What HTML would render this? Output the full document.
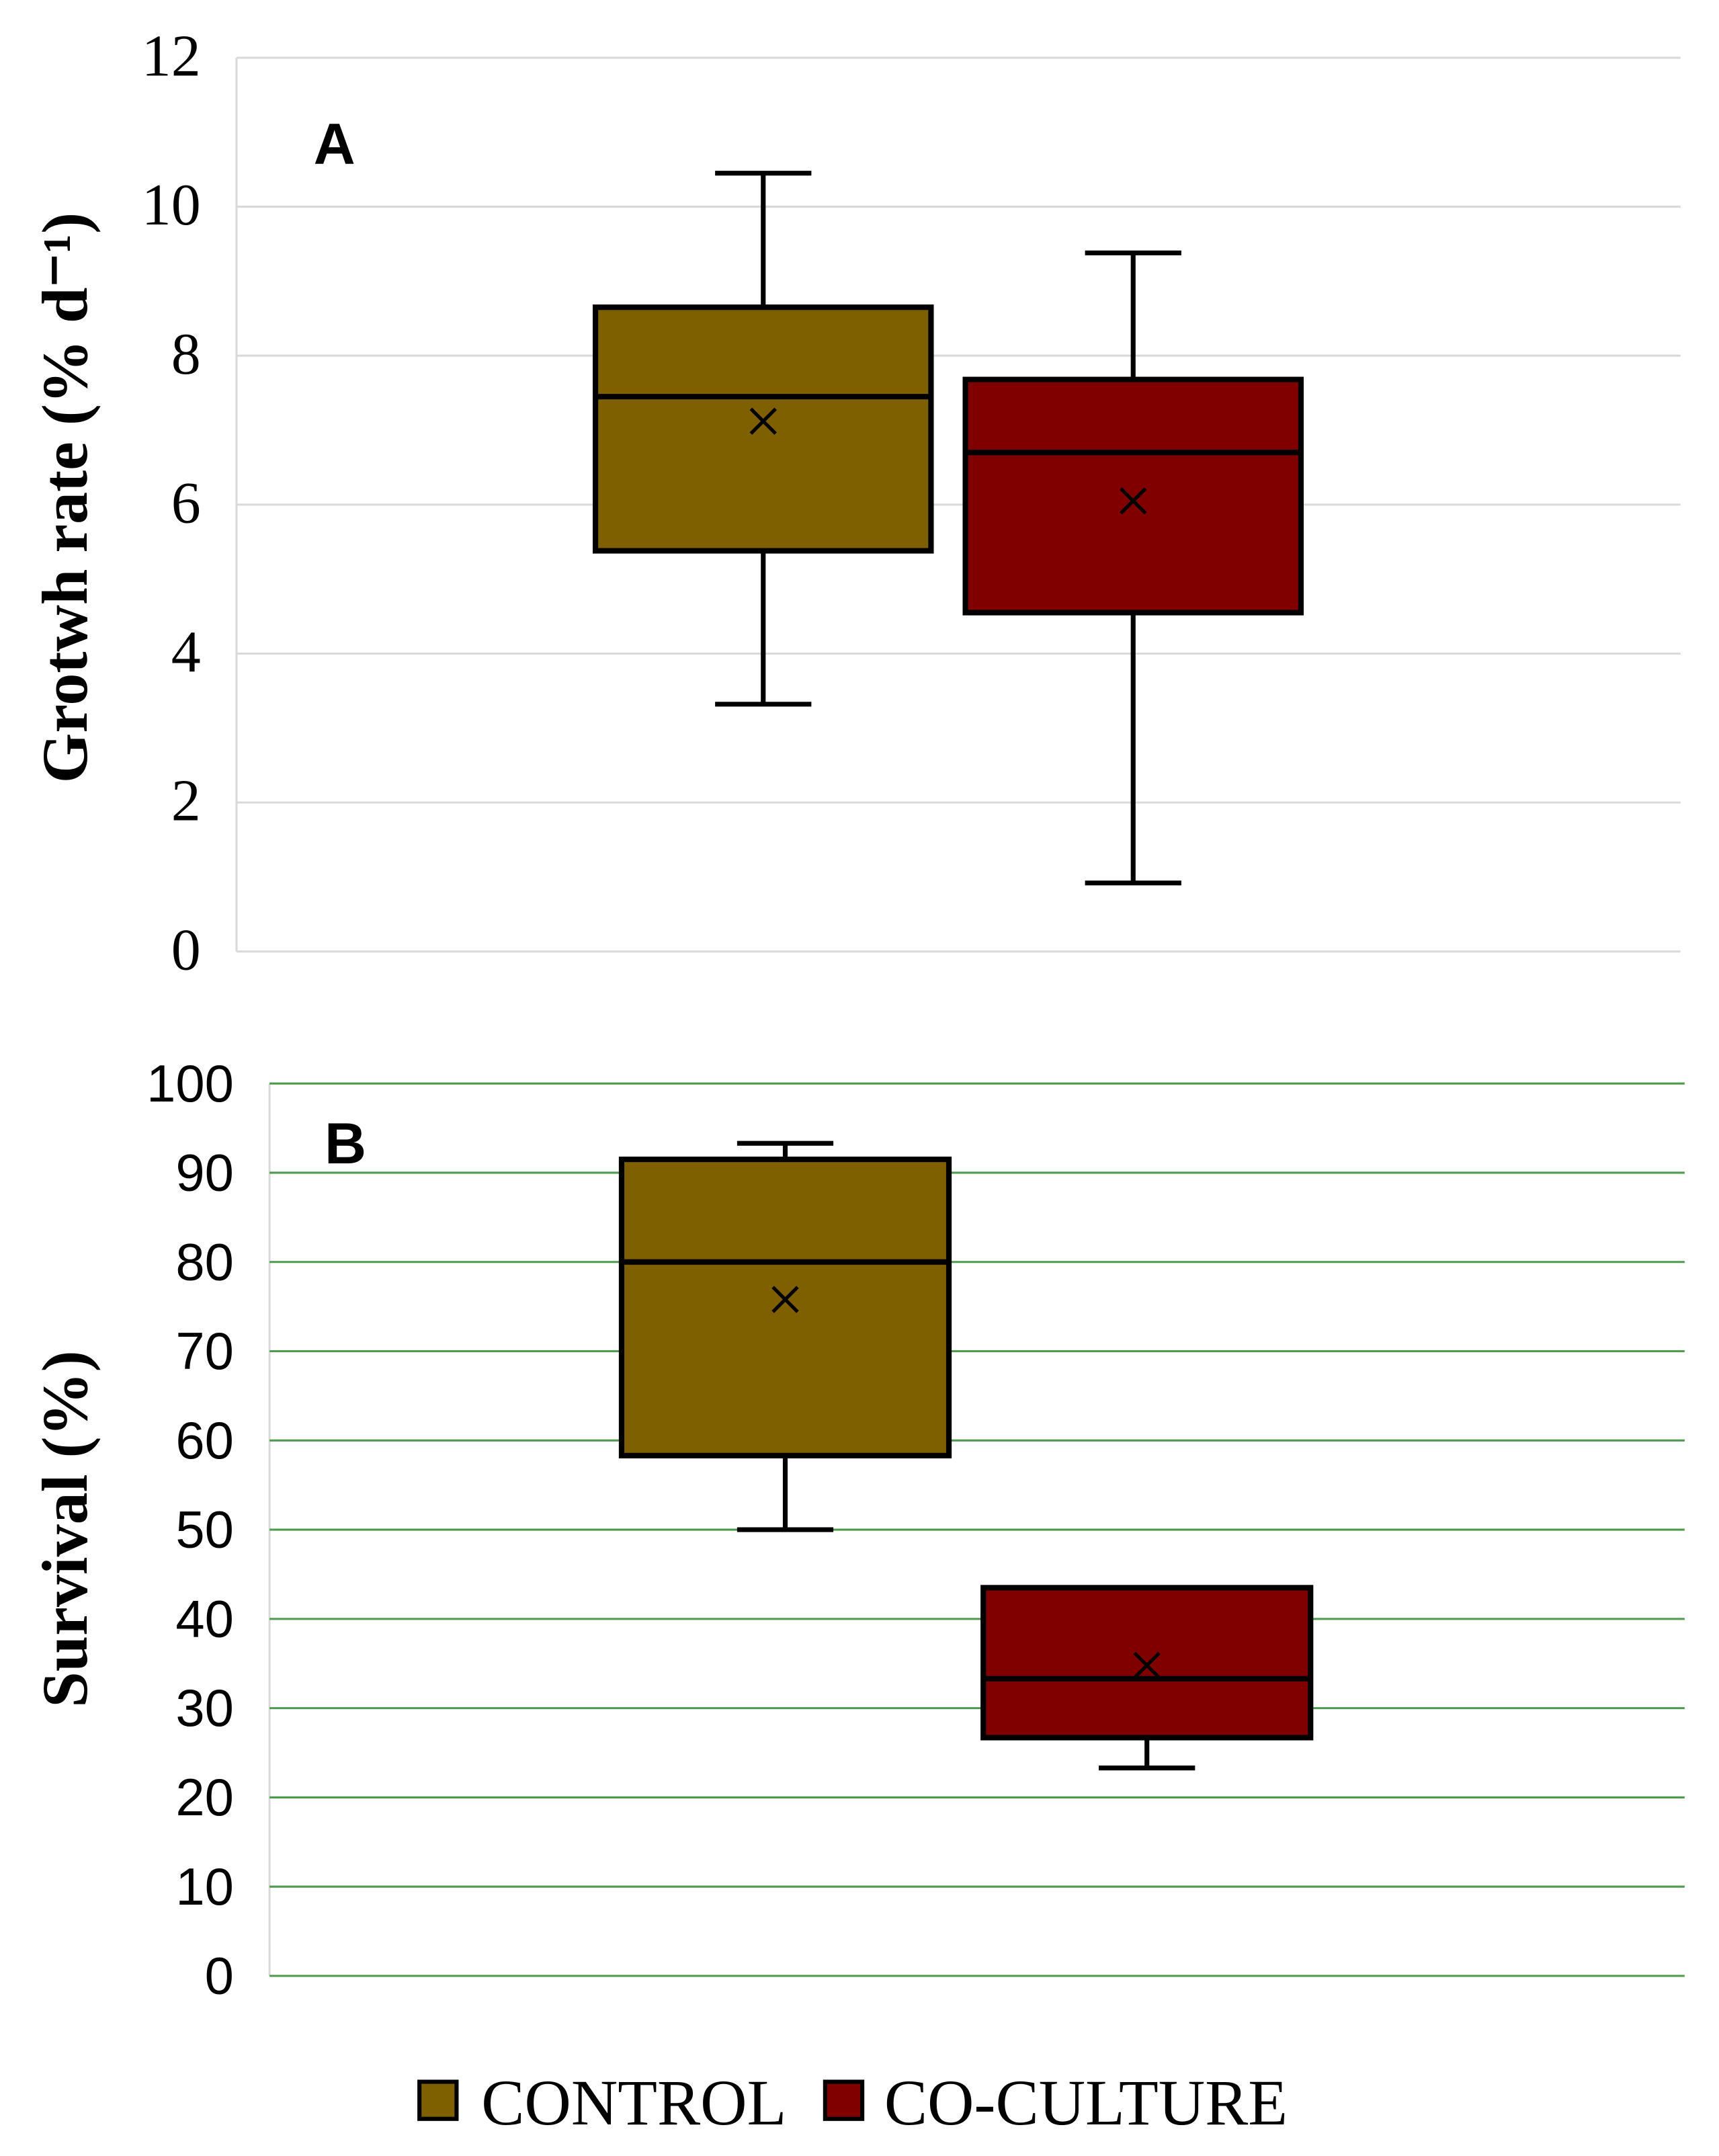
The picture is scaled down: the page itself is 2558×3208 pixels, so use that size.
<!DOCTYPE html>
<html><head><meta charset="utf-8"><style>
html,body{margin:0;padding:0;background:#fff}
svg{display:block}
</style></head><body>
<svg id="c" width="2558" height="3208" viewBox="0 0 1250 1568" preserveAspectRatio="none" xmlns="http://www.w3.org/2000/svg"></svg>
<script>
const groups = ["CONTROL","CO-CULTURE"];
const colors = ["#7f6000","#800000"];
// panel A: growth rate
const aMax = [10.45, 9.38];
const aQ3 = [8.65, 7.68];
const aMed = [7.45, 6.7];
const aQ1 = [5.38, 4.55];
const aMin = [3.32, 0.92];
const aMean = [7.12, 6.05];
const aTicks = [0,2,4,6,8,10,12];
// panel B: survival
const bMax = [93.3, 26.7];
const bQ3 = [91.5, 43.5];
const bMed = [80, 33.3];
const bQ1 = [58.3, 26.7];
const bMin = [50, 23.3];
const bMean = [75.8, 34.8];
const bTicks = [0,10,20,30,40,50,60,70,80,90,100];

const svg = document.getElementById('c');
const NS = "http://www.w3.org/2000/svg";
function el(tag, attrs, parent){const e=document.createElementNS(NS,tag);for(const k in attrs)e.setAttribute(k,attrs[k]);(parent||svg).appendChild(e);return e;}

function panel(cfg){
  const g = el('g',{});
  
  
  const y = v => cfg.y0 + (v - cfg.vmin)/(cfg.vmax-cfg.vmin)*(cfg.y1-cfg.y0);
  el('line',{x1:cfg.x0,x2:cfg.x0,y1:y(cfg.vmax),y2:y(cfg.vmin),stroke:'#d9d9d9','stroke-width':1.5},g);
  cfg.ticks.forEach(t=>{
    const l = el('line',{x1:cfg.x0,x2:cfg.x1,y1:y(t),y2:y(t),stroke:cfg.grid,'stroke-width':1.5},g);
    
    
    const tx = el('text',{x:cfg.x0-26,y:y(t)+13,'text-anchor':'end','font-family':cfg.font,'font-size':cfg.fs,fill:'#000'},g);
    tx.textContent = t;
    
    
  });
  const yt = el('text',{transform:`translate(${cfg.titleX},${cfg.titleY}) rotate(-90)`,'text-anchor':'middle','font-family':'Liberation Serif, serif','font-weight':'bold','font-size':47,fill:'#000'},g);
  yt.textContent = cfg.title;
  
  
  const lb = el('text',{x:cfg.lx,y:cfg.ly,'font-family':'Liberation Sans, sans-serif','font-weight':'bold','font-size':42,fill:'#000'},g);
  lb.textContent = cfg.label;
  
  
  for(let i=0;i<groups.length;i++){
    const bx = cfg.bx[i], bw = cfg.bw, cx = bx+bw/2;
    const bg = el('g',{},g);
    
    
    el('line',{x1:cx,x2:cx,y1:y(cfg.max[i]),y2:y(cfg.q3[i]),stroke:'#000','stroke-width':3.5},bg);
    el('line',{x1:cx,x2:cx,y1:y(cfg.q1[i]),y2:y(cfg.min[i]),stroke:'#000','stroke-width':3.5},bg);
    el('line',{x1:cx-35,x2:cx+35,y1:y(cfg.max[i]),y2:y(cfg.max[i]),stroke:'#000','stroke-width':3.5},bg);
    el('line',{x1:cx-35,x2:cx+35,y1:y(cfg.min[i]),y2:y(cfg.min[i]),stroke:'#000','stroke-width':3.5},bg);
    el('rect',{x:bx,y:y(cfg.q3[i]),width:bw,height:y(cfg.q1[i])-y(cfg.q3[i]),fill:colors[i],stroke:'#000','stroke-width':4},bg);
    el('line',{x1:bx,x2:bx+bw,y1:y(cfg.med[i]),y2:y(cfg.med[i]),stroke:'#000','stroke-width':4},bg);
    const my=y(cfg.mean[i]);
    el('path',{d:`M${cx-9} ${my-9}L${cx+9} ${my+9}M${cx+9} ${my-9}L${cx-9} ${my+9}`,stroke:'#000','stroke-width':2.5},bg);
  }
}
panel({name:'panel-a-growth-rate',x0:172,x1:1222,y0:692,y1:42,vmin:0,vmax:12,ticks:aTicks,grid:'#d9d9d9',font:'Liberation Serif, serif',fs:43,
  title:'Grotwh rate (% d\u207B\u00B9)',titleX:63,titleY:362,label:'A',lx:228,ly:119,
  bx:[433,702],bw:244,max:aMax,q3:aQ3,med:aMed,q1:aQ1,min:aMin,mean:aMean});
panel({name:'panel-b-survival',x0:196,x1:1225,y0:1437,y1:788,vmin:0,vmax:100,ticks:bTicks,grid:'#4e9a4e',font:'Liberation Sans, sans-serif',fs:38,
  title:'Survival (%)',titleX:63,titleY:1112,label:'B',lx:236,ly:846,
  bx:[452,715],bw:238,max:bMax,q3:bQ3,med:bMed,q1:bQ1,min:bMin,mean:bMean});
// legend
const lg = el('g',{});


const lx=[305,600], tx=[350,643];
for(let i=0;i<groups.length;i++){
  const e = el('g',{},lg);
  
  
  el('rect',{x:lx[i],y:1514,width:27,height:27,fill:colors[i],stroke:'#000','stroke-width':3},e);
  const t = el('text',{x:tx[i],y:1545,'font-family':'Liberation Serif, serif','font-size':47,fill:'#000'},e);
  t.textContent = groups[i];
}
</script>
</body></html>
